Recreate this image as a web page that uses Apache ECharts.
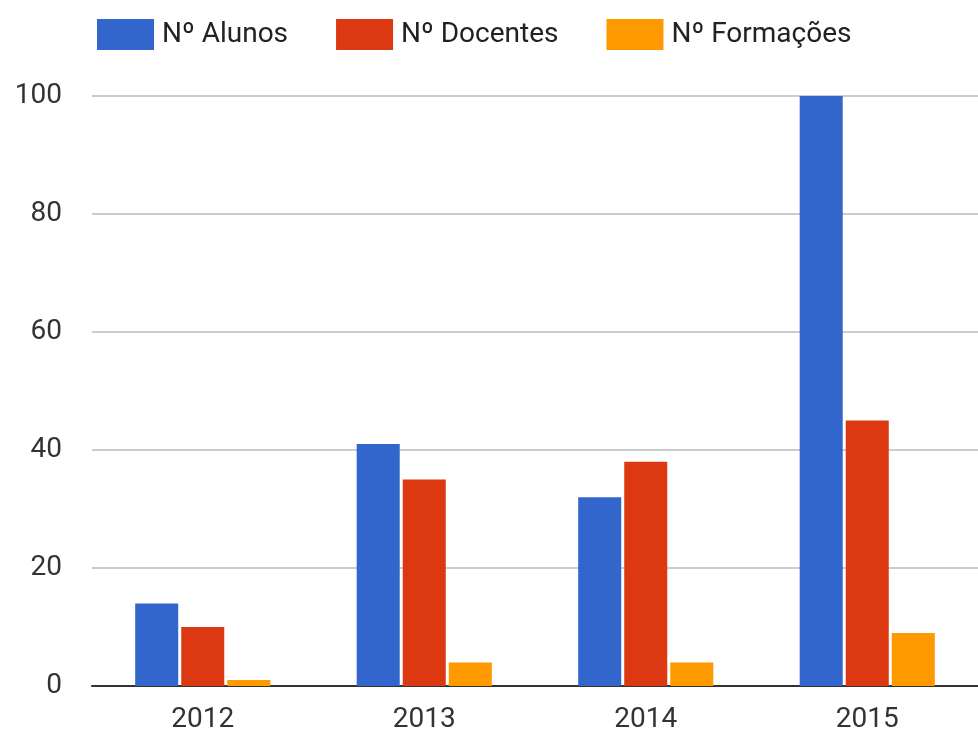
<!DOCTYPE html>
<html>
<head>
<meta charset="utf-8">
<script src="https://cdn.jsdelivr.net/npm/echarts@6/dist/echarts.min.js"></script>
<style>
  html, body { margin: 0; padding: 0; background: #fff; }
  #chart { width: 978px; height: 734px; }
</style>
</head>
<body>
<div id="chart"></div>
<script>
var years = ['2012', '2013', '2014', '2015'];
var alunos = [14, 41, 32, 100];
var docentes = [10, 35, 38, 45];
var formacoes = [1, 4, 4, 9];
var seriesNames = ['Nº Alunos', 'Nº Docentes', 'Nº Formações'];
var colors = ['#3366cc', '#dc3912', '#ff9900'];

var font = 'Roboto, Liberation Sans, Arial, sans-serif';

var option = {
    animation: false,
    color: colors,
    textStyle: { fontFamily: font },
    legend: {
        top: 14,
        left: 92,
        itemWidth: 57,
        itemHeight: 31,
        itemGap: 48,
        icon: 'rect',
        textStyle: { fontSize: 28, color: '#222', fontFamily: font, padding: [0, 0, 0, 3] },
        data: seriesNames
    },
    grid: {
        left: 92,
        right: 0,
        top: 96,
        bottom: 48
    },
    xAxis: {
        type: 'category',
        data: years,
        axisTick: { show: false },
        axisLine: { lineStyle: { color: '#333', width: 2 } },
        axisLabel: { fontSize: 28, color: '#333', margin: 20, fontFamily: font }
    },
    yAxis: {
        type: 'value',
        min: 0,
        max: 100,
        interval: 20,
        axisLine: { show: false },
        axisTick: { show: false },
        axisLabel: { fontSize: 28, color: '#333', margin: 30, fontFamily: font },
        splitLine: { lineStyle: { color: '#cccccc', width: 2 } }
    },
    series: [
        { name: seriesNames[0], type: 'bar', data: alunos, barGap: '7%', barCategoryGap: '39%' },
        { name: seriesNames[1], type: 'bar', data: docentes },
        { name: seriesNames[2], type: 'bar', data: formacoes }
    ]
};

var chart = echarts.init(document.getElementById('chart'));
chart.setOption(option);
</script>
</body>
</html>
